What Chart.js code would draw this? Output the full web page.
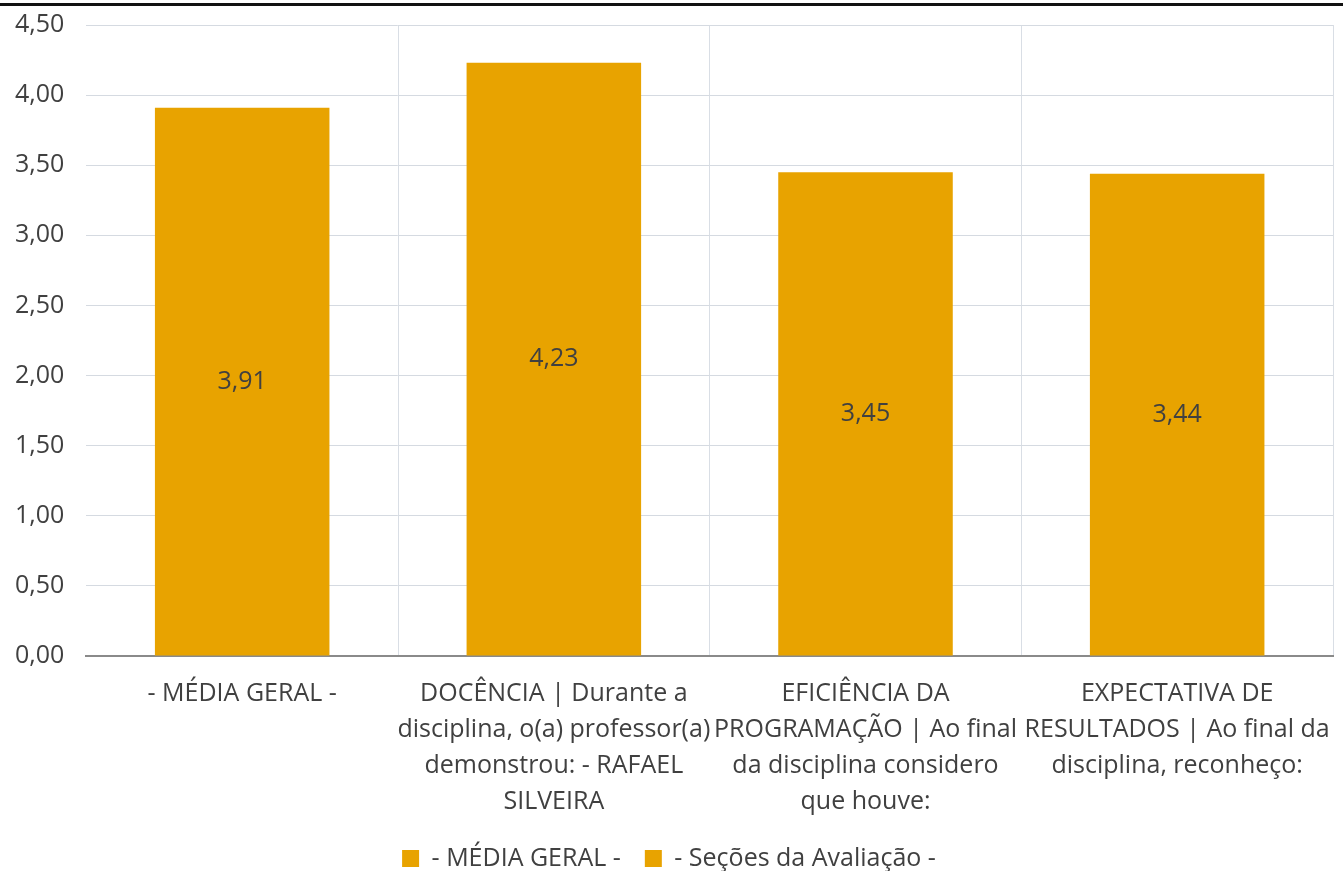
<!DOCTYPE html>
<html>
<head>
<meta charset="utf-8">
<script src="https://cdn.jsdelivr.net/npm/chart.js@4/dist/chart.umd.min.js"></script>
<style>
    html, body { margin: 0; padding: 0; background: #fff; }
    #chartContainer { position: relative; width: 1343px; height: 871px; }
    #topRule { position: absolute; left: 0; right: 0; top: 3px; height: 3px; background: #111; }
</style>
</head>
<body>
<div id="chartContainer">
    <div id="topRule"></div>
    <canvas id="avaliacaoChart"></canvas>
</div>
<script>
// Categories (multi-line labels)
const categories = [
    ["- MÉDIA GERAL -"],
    ["DOCÊNCIA | Durante a", "disciplina, o(a) professor(a)", "demonstrou: - RAFAEL", "SILVEIRA"],
    ["EFICIÊNCIA DA", "PROGRAMAÇÃO | Ao final", "da disciplina considero", "que houve:"],
    ["EXPECTATIVA DE", "RESULTADOS | Ao final da", "disciplina, reconheço:"]
];

// Series values
const mediaGeral = [3.91, null, null, null];
const secoesAvaliacao = [null, 4.23, 3.45, 3.44];

// Y ticks
const yMin = 0;
const yMax = 4.5;
const yStep = 0.5;

const barColor = "#E8A300";
const textColor = "#404040";
const fontFamily = "'Open Sans', 'Noto Sans', sans-serif";
const fontSize = 25;
const noColor = "rgba(0,0,0,0)";

function fmt(v) {
    return Number(v).toFixed(2).replace(".", ",");
}

// Draw value labels centered in each bar
const centerLabels = {
    id: "centerLabels",
    afterDatasetsDraw(chart) {
        const ctx = chart.ctx;
        ctx.save();
        ctx.fillStyle = textColor;
        ctx.font = fontSize + "px " + fontFamily;
        ctx.textAlign = "center";
        ctx.textBaseline = "middle";
        chart.data.datasets.forEach(function (ds, i) {
            const meta = chart.getDatasetMeta(i);
            meta.data.forEach(function (bar, j) {
                const v = ds.data[j];
                if (v === null || v === undefined) return;
                const y = (bar.y + bar.base) / 2;
                ctx.fillText(fmt(v), bar.x, y);
            });
        });
        ctx.restore();
    }
};

const ctx = document.getElementById("avaliacaoChart").getContext("2d");
new Chart(ctx, {
    type: "bar",
    data: {
        labels: categories,
        datasets: [
            {
                label: "- MÉDIA GERAL -",
                data: mediaGeral,
                backgroundColor: barColor,
                barPercentage: 0.56,
                categoryPercentage: 1
            },
            {
                label: "- Seções da Avaliação -",
                data: secoesAvaliacao,
                backgroundColor: barColor,
                barPercentage: 0.56,
                categoryPercentage: 1
            }
        ]
    },
    options: {
        responsive: true,
        maintainAspectRatio: false,
        animation: false,
        layout: { autoPadding: false, padding: { top: 0, right: 10, left: 5, bottom: -10 } },
        plugins: {
            tooltip: { enabled: false },
            legend: {
                position: "bottom",
                labels: {
                    color: textColor,
                    font: { family: fontFamily, size: fontSize },
                    boxWidth: 17,
                    boxHeight: 17,
                    padding: 24
                }
            }
        },
        scales: {
            x: {
                stacked: true,
                afterFit: function (scale) { scale.height = 166; },
                grid: {
                    drawTicks: true,
                    tickLength: 12,
                    tickColor: noColor,
                    color: function (c) {
                        return (c.index === 0 || c.index === categories.length) ? noColor : "#D9DEE5";
                    },
                    lineWidth: 1
                },
                border: { display: true, color: "#8A8A8A", width: 2 },
                ticks: {
                    color: textColor,
                    font: { family: fontFamily, size: fontSize, lineHeight: 1.44 },
                    maxRotation: 0,
                    autoSkip: false,
                    padding: 8
                }
            },
            y: {
                stacked: true,
                min: yMin,
                max: yMax,
                grid: { drawTicks: true, tickLength: 12, tickColor: noColor, color: "#D5DAE1" },
                border: { display: false },
                ticks: {
                    stepSize: yStep,
                    color: textColor,
                    font: { family: fontFamily, size: fontSize },
                    padding: 10,
                    callback: function (v) { return fmt(v); }
                }
            }
        }
    },
    plugins: [centerLabels]
});
</script>
</body>
</html>
